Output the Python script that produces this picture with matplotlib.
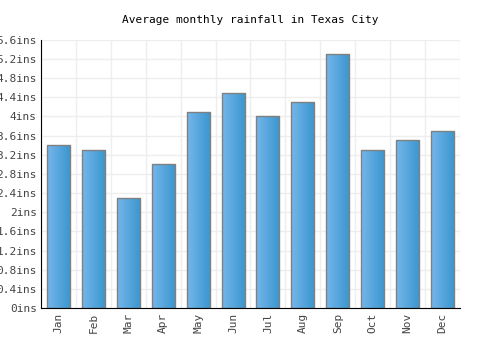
import matplotlib
matplotlib.use("Agg")
import matplotlib.pyplot as plt
import numpy as np
from matplotlib.colors import LinearSegmentedColormap

months = ["Jan", "Feb", "Mar", "Apr", "May", "Jun", "Jul", "Aug", "Sep", "Oct", "Nov", "Dec"]
rainfall = [3.4, 3.3, 2.3, 3.0, 4.1, 4.5, 4.0, 4.3, 5.3, 3.3, 3.5, 3.7]
yticks = [0, 0.4, 0.8, 1.2, 1.6, 2.0, 2.4, 2.8, 3.2, 3.6, 4.0, 4.4, 4.8, 5.2, 5.6]
ytick_labels = ["0ins", "0.4ins", "0.8ins", "1.2ins", "1.6ins", "2ins", "2.4ins", "2.8ins",
                "3.2ins", "3.6ins", "4ins", "4.4ins", "4.8ins", "5.2ins", "5.6ins"]
title = "Average monthly rainfall in Texas City"

plt.rcParams['font.family'] = ['DejaVu Sans Mono']
fig = plt.figure(figsize=(5, 3.5), dpi=100)
ax = fig.add_axes([0.082, 0.12, 0.838, 0.766])

x = np.arange(len(months))
bars = ax.bar(x, rainfall, width=0.66, color='none', edgecolor='#808080', linewidth=1.0, zorder=3)

cmap = LinearSegmentedColormap.from_list("g", ["#74b6ea", "#3a96cf"])
grad = np.linspace(0, 1, 64).reshape(1, -1)
for b in bars:
    x0, y0 = b.get_x(), b.get_y()
    w, h = b.get_width(), b.get_height()
    im = ax.imshow(grad, cmap=cmap, aspect='auto', extent=[x0, x0 + w, y0, y0 + h],
                   zorder=2, interpolation='bilinear')
    im.set_clip_path(b)

ax.set_xlim(-0.5, len(months) - 0.5)
ax.set_ylim(0, 5.6)
ax.set_yticks(yticks)
ax.set_yticklabels(ytick_labels)
ax.set_xticks(x)
ax.set_xticklabels(months, rotation=90)
ax.set_xticks(np.arange(-0.5, len(months), 1), minor=True)
ax.tick_params(axis='both', which='both', length=0, labelsize=8, colors='#444444')
ax.tick_params(axis='y', pad=3)
ax.grid(True, which='minor', axis='x', color='#eeeeee', linewidth=1, zorder=0)
ax.grid(True, which='major', axis='y', color='#eeeeee', linewidth=1, zorder=0)
for s in ['top', 'right']:
    ax.spines[s].set_visible(False)
ax.spines['left'].set_color('black')
ax.spines['bottom'].set_color('black')
ax.spines['left'].set_zorder(4)
ax.spines['bottom'].set_zorder(4)
ax.set_axisbelow(True)

fig.text(0.5, 0.943, title, ha='center', va='center', fontsize=8, color='black')

fig.savefig("out.png", dpi=100)
